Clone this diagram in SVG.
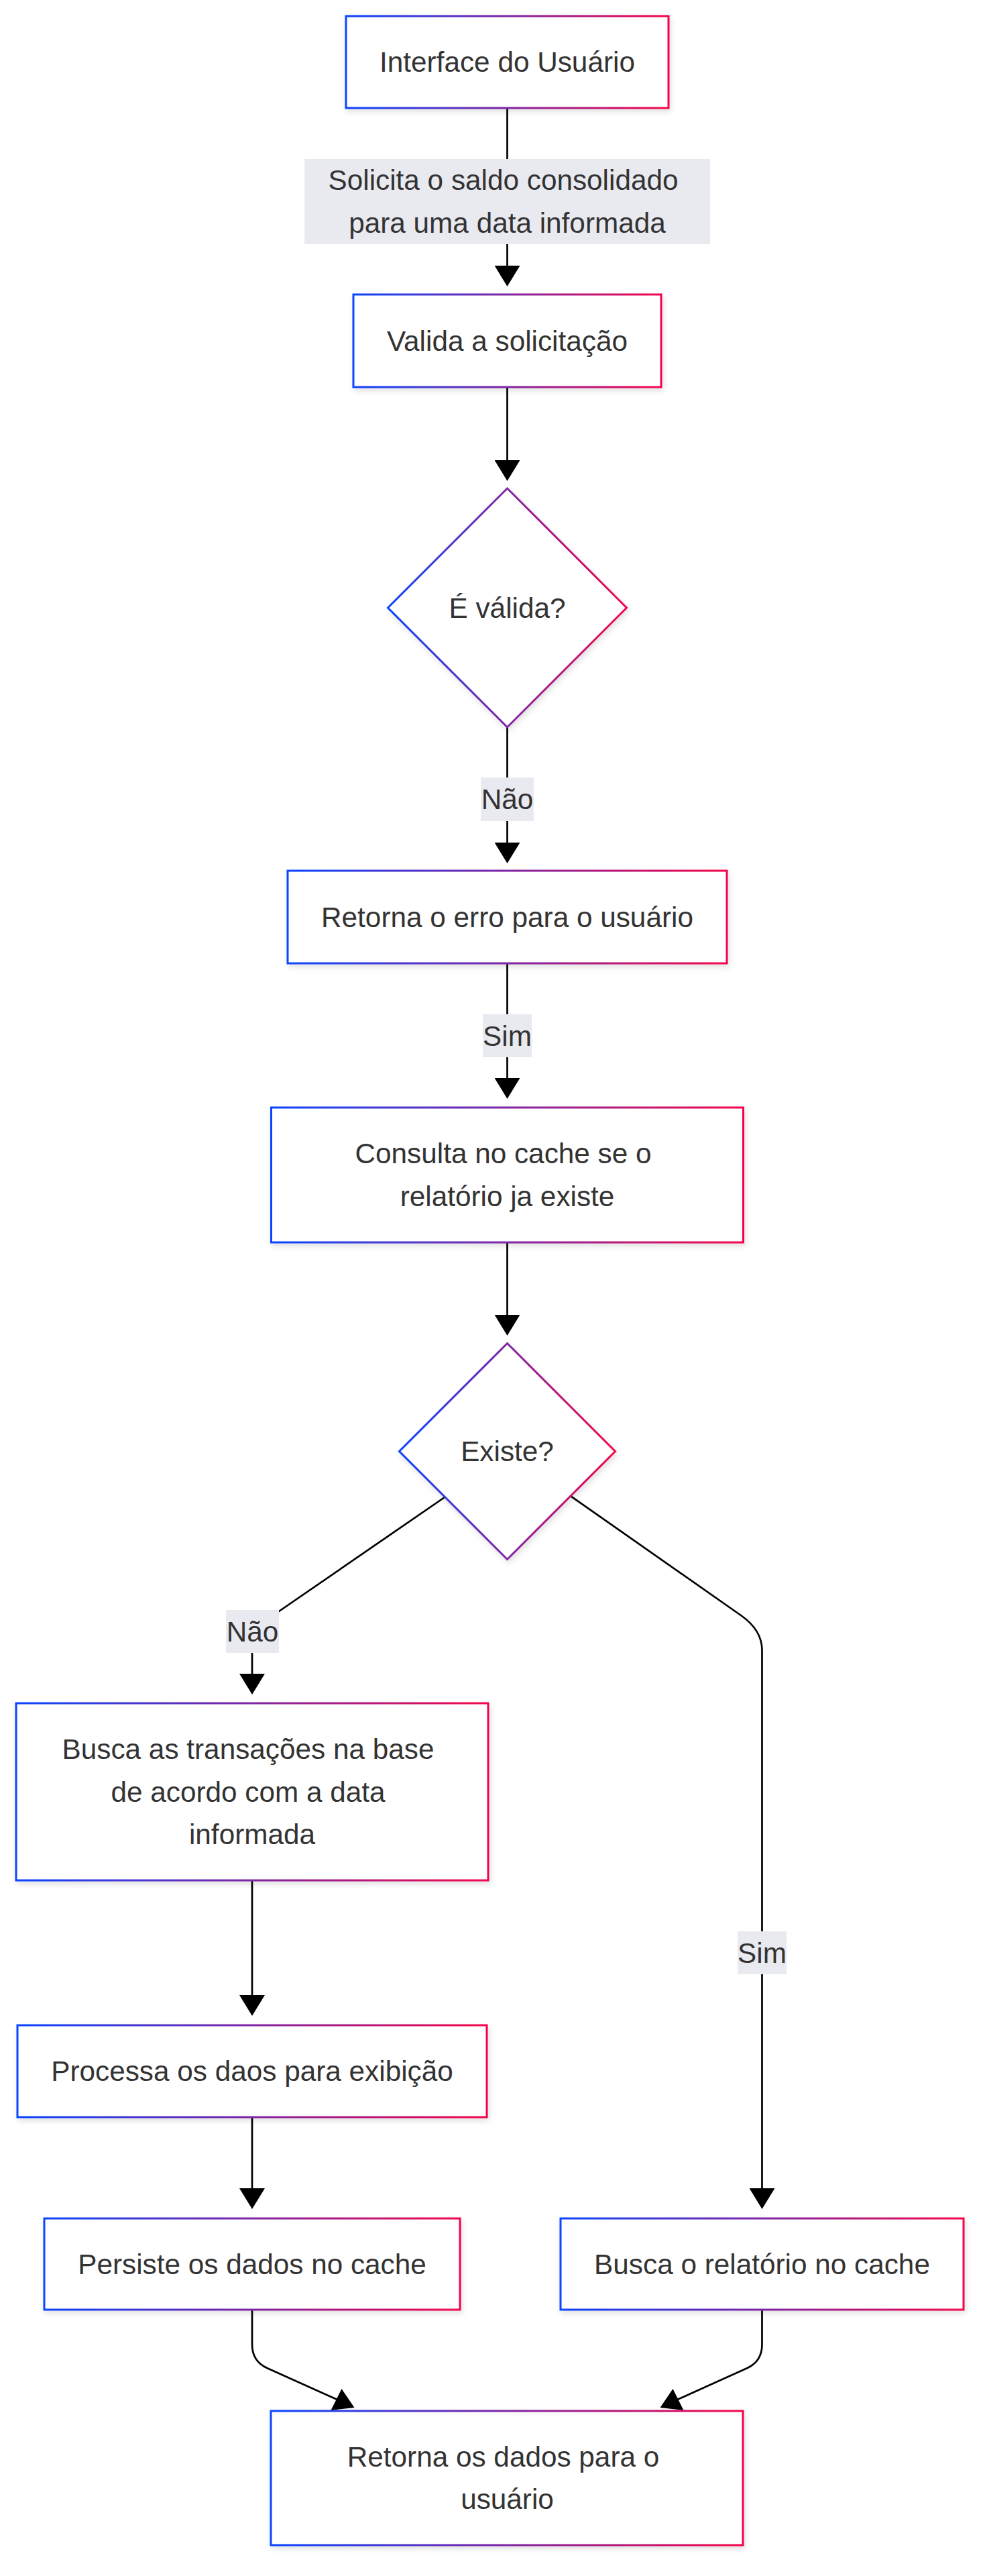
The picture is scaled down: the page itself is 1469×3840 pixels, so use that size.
<svg xmlns="http://www.w3.org/2000/svg" width="1469" height="3840" viewBox="0 0 1469 3840">
<defs>
<linearGradient id="grad" x1="0" y1="0" x2="1" y2="0">
<stop offset="0" stop-color="#0a45ff"/>
<stop offset="1" stop-color="#f5064a"/>
</linearGradient>
<filter id="shadow" x="-10%" y="-10%" width="120%" height="130%">
<feDropShadow dx="2" dy="4" stdDeviation="4" flood-color="#000" flood-opacity="0.12"/>
</filter>
<marker id="arrow" viewBox="0 0 31 38" refX="26" refY="19" markerWidth="31" markerHeight="38" markerUnits="userSpaceOnUse" orient="auto">
<path d="M0,0 L31,19 L0,38 z" fill="#000"/>
</marker>
</defs>
<style>
.node{fill:#fff;stroke:url(#grad);stroke-width:3;filter:url(#shadow);}
.t{font-family:"Liberation Sans",Arial,Helvetica,sans-serif;font-size:42.3px;fill:#333;text-anchor:middle;}
.edge{fill:none;stroke:#000;stroke-width:2.7;}
.arr{marker-end:url(#arrow);}
.lbl{fill:#e9e9f0;}
.head{fill:#000;}
</style>
<rect width="1469" height="3840" fill="#fff"/>

<g id="connectors">
<path class="edge arr" d="M756.5,161 L756.5,422"/>
<path class="edge arr" d="M756.5,577 L756.5,712"/>
<path class="edge arr" d="M756.5,1084 L756.5,1282"/>
<path class="edge arr" d="M756.5,1436 L756.5,1633"/>
<path class="edge arr" d="M756.5,1852 L756.5,1986"/>
<path class="edge arr" d="M663,2232 L400,2413 Q376,2429.5 376,2455 L376,2521"/>
<path class="edge arr" d="M851.7,2230.6 L1105,2408 Q1136.5,2430 1136.5,2460 L1136.5,3288"/>
<path class="edge arr" d="M376,2803 L376,3000"/>
<path class="edge arr" d="M376,3156 L376,3288"/>
<path class="edge" d="M376,3443 L376,3495 Q376,3520 398.8,3530.3 L505,3578"/>
<polygon class="head" points="509.5,3561 493.5,3593 528.5,3589"/>
<path class="edge" d="M1136.5,3443 L1136.5,3495 Q1136.5,3520 1114,3530.3 L1008,3578"/>
<polygon class="head" points="1003.5,3561 984.5,3589 1019.5,3593"/>
</g>

<g id="edge-labels">
<g id="label-solicita">
<rect class="lbl" x="454" y="237" width="605" height="127"/>
<text class="t" x="750.5" y="283.2">Solicita o saldo consolidado</text>
<text class="t" x="756.5" y="346.6">para uma data informada</text>
</g>
<g id="label-nao-1">
<rect class="lbl" x="717" y="1159" width="79" height="65"/>
<text class="t" x="756.5" y="1206">Não</text>
</g>
<g id="label-sim-1">
<rect class="lbl" x="720" y="1512" width="73" height="64"/>
<text class="t" x="756.5" y="1558.5">Sim</text>
</g>
<g id="label-nao-2">
<rect class="lbl" x="337" y="2400" width="79" height="64"/>
<text class="t" x="376.5" y="2446.5">Não</text>
</g>
<g id="label-sim-2">
<rect class="lbl" x="1100" y="2879" width="73" height="64"/>
<text class="t" x="1136.5" y="2925.5">Sim</text>
</g>
</g>

<g id="interface">
<rect class="node" x="516" y="24" width="481" height="137"/>
<text class="t" x="756.5" y="107">Interface do Usuário</text>
</g>
<g id="valida">
<rect class="node" x="527" y="439" width="459" height="138"/>
<text class="t" x="756.5" y="522.5">Valida a solicitação</text>
</g>
<g id="e-valida">
<polygon class="node" points="756.5,728 934.5,906 756.5,1084 578.5,906"/>
<text class="t" x="756.5" y="920.5">É válida?</text>
</g>
<g id="retorna-erro">
<rect class="node" x="429" y="1298" width="655" height="138"/>
<text class="t" x="756.5" y="1381.5">Retorna o erro para o usuário</text>
</g>
<g id="consulta">
<rect class="node" x="404.5" y="1651" width="704" height="201"/>
<text class="t" x="750.5" y="1734.3">Consulta no cache se o</text>
<text class="t" x="756.5" y="1797.7">relatório ja existe</text>
</g>
<g id="existe">
<polygon class="node" points="756.5,2002.5 917.5,2163.5 756.5,2324.5 595.5,2163.5"/>
<text class="t" x="756.5" y="2178">Existe?</text>
</g>
<g id="busca-transacoes">
<rect class="node" x="24" y="2539" width="704" height="264"/>
<text class="t" x="370" y="2622.1">Busca as transações na base</text>
<text class="t" x="370" y="2685.5">de acordo com a data</text>
<text class="t" x="376" y="2748.9">informada</text>
</g>
<g id="processa">
<rect class="node" x="26" y="3019" width="700" height="137"/>
<text class="t" x="376" y="3102">Processa os daos para exibição</text>
</g>
<g id="persiste">
<rect class="node" x="66" y="3307" width="620" height="136"/>
<text class="t" x="376" y="3389.5">Persiste os dados no cache</text>
</g>
<g id="busca-cache">
<rect class="node" x="836" y="3307" width="601" height="136"/>
<text class="t" x="1136.5" y="3389.5">Busca o relatório no cache</text>
</g>
<g id="retorna-dados">
<rect class="node" x="404" y="3594" width="704" height="200"/>
<text class="t" x="750.5" y="3676.8">Retorna os dados para o</text>
<text class="t" x="756.5" y="3740.2">usuário</text>
</g>
</svg>
